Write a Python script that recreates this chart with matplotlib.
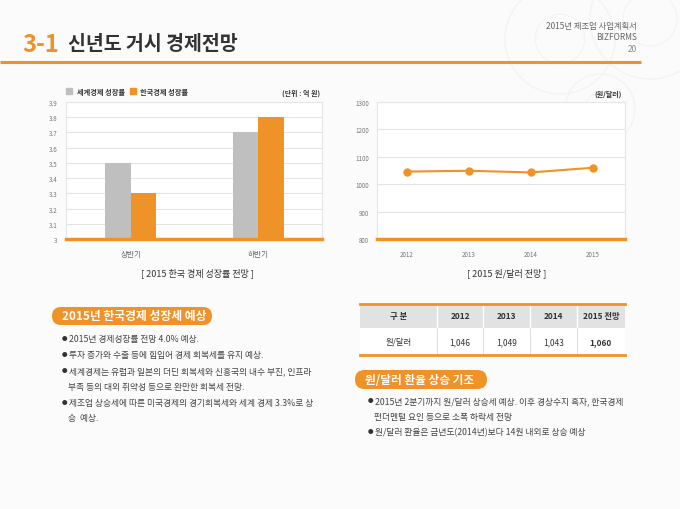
import matplotlib
matplotlib.use("Agg")
import matplotlib.pyplot as plt
from matplotlib.patches import FancyBboxPatch, Rectangle, Circle
import numpy as np

plt.rcParams['font.family'] = ['Noto Sans CJK KR', 'DejaVu Sans']

# ---------------- data ----------------
halves = ['상반기', '하반기']
world_growth = [3.5, 3.7]
korea_growth = [3.3, 3.8]
growth_ticks = [3, 3.1, 3.2, 3.3, 3.4, 3.5, 3.6, 3.7, 3.8, 3.9]

years = ['2012', '2013', '2014', '2015']
krw_usd = [1046, 1049, 1043, 1060]
krw_ticks = [800, 900, 1000, 1100, 1200, 1300]

table_header = ['구 분', '2012', '2013', '2014', '2015 전망']
table_row = ['원/달러', '1,046', '1,049', '1,043', '1,060']

left_bullets = [
    ['2015년 경제성장률 전망 4.0% 예상.'],
    ['투자 증가와 수출 등에 힘입어 경제 회복세를 유지 예상.'],
    ['세계경제는 유럽과 일본의 더딘 회복세와 신흥국의 내수 부진, 인프라',
     '부족 등의 대외 취약성 등으로 완만한 회복세 전망.'],
    ['제조업 상승세에 따른 미국경제의 경기회복세와 세계 경제 3.3%로 상',
     '승  예상.'],
]
right_bullets = [
    ['2015년 2분기까지 원/달러 상승세 예상. 이후 경상수지 흑자, 한국경제',
     '펀더멘털 요인 등으로 소폭 하락세 전망'],
    ['원/달러 환율은 금년도(2014년)보다 14원 내외로 상승 예상'],
]

ORANGE = '#EF9228'
GRAY = '#BFBFBF'
TXT = '#444444'

W, H = 680, 510
fig = plt.figure(figsize=(W / 100, H / 100), dpi=100)
fig.patch.set_facecolor('#FBFBFB')

# overlay axes in pixel coordinates
ov = fig.add_axes([0, 0, 1, 1])
ov.set_xlim(0, W)
ov.set_ylim(H, 0)
ov.axis('off')

# faint gear watermark
for (cx, cy, r) in [(560, 40, 55), (650, 20, 60), (600, 110, 35)]:
    ov.add_patch(Circle((cx, cy), r, fill=False, ec='#F3F3F3', lw=1.0))
    ov.add_patch(Circle((cx, cy), r * 0.45, fill=False, ec='#F3F3F3', lw=0.8))

# header
ov.text(22, 45, '3-1', color=ORANGE, fontsize=17, fontweight='bold', va='center', ha='left')
ov.text(68, 45, '신년도 거시 경제전망', color='#333333', fontsize=14, fontweight='bold', va='center', ha='left')
ov.plot([0, 641], [62.5, 62.5], color=ORANGE, lw=2.2, solid_capstyle='butt')
ov.text(637, 27, '2015년 제조업 사업계획서', color='#666666', fontsize=6, ha='right', va='center')
ov.text(637, 38, 'BIZFORMS', color='#666666', fontsize=6, ha='right', va='center')
ov.text(637, 49, '20', color='#888888', fontsize=6, ha='right', va='center')

# ---------------- left bar chart ----------------
axL = fig.add_axes([66 / W, 1 - 240 / H, 256 / W, 137 / H])
axL.set_facecolor('#FFFFFF')
x = np.arange(len(halves))
bw = 0.2
axL.bar(x - bw / 2, world_growth, bw, color=GRAY, zorder=3)
axL.bar(x + bw / 2, korea_growth, bw, color=ORANGE, zorder=3)
axL.set_ylim(3, 3.9)
axL.set_xlim(-0.51, 1.5)
axL.set_yticks(growth_ticks)
axL.set_yticklabels([('%g' % t) for t in growth_ticks], fontsize=4.5, color='#777777')
axL.set_xticks(x)
axL.set_xticklabels(halves, fontsize=5.5, color='#666666')
axL.yaxis.grid(True, color='#E3E3E3', lw=0.8, zorder=0)
axL.tick_params(length=0, pad=6)
axL.tick_params(axis='x', pad=8)
for s in ['left', 'top', 'right']:
    axL.spines[s].set_color('#E6E6E6')
    axL.spines[s].set_linewidth(0.8)
axL.spines['bottom'].set_color(ORANGE)
axL.spines['bottom'].set_linewidth(2.5)
axL.spines['bottom'].set_zorder(5)

# legend
ov.add_patch(Rectangle((66, 89), 6, 6, color=GRAY))
ov.text(77, 92.5, '세계경제 성장률', fontsize=5.2, color='#333333', va='center', fontweight='bold')
ov.add_patch(Rectangle((130, 89), 6, 6, color=ORANGE))
ov.text(140, 92.5, '한국경제 성장률', fontsize=5.2, color='#333333', va='center', fontweight='bold')
ov.text(320, 93, '(단위 : 억 원)', fontsize=5, color='#333333', ha='right', va='center', fontweight='bold')
ov.text(197, 273, '[ 2015 한국 경제 성장률 전망 ]', fontsize=6.5, color='#333333', ha='center', va='center')

# ---------------- right line chart ----------------
axR = fig.add_axes([377 / W, 1 - 240 / H, 248 / W, 137 / H])
axR.set_facecolor('#FFFFFF')
xr = np.arange(len(years))
axR.plot(xr, krw_usd, color=ORANGE, lw=1.5, marker='o', ms=5, zorder=3)
axR.set_ylim(800, 1300)
axR.set_xlim(-0.48, 3.52)
axR.set_yticks(krw_ticks)
axR.set_yticklabels([str(t) for t in krw_ticks], fontsize=4.5, color='#777777')
axR.set_xticks(xr)
axR.set_xticklabels(years, fontsize=4.5, color='#777777')
axR.yaxis.grid(True, color='#E3E3E3', lw=0.8, zorder=0)
axR.tick_params(length=0, pad=6)
axR.tick_params(axis='x', pad=8)
for s in ['left', 'top', 'right']:
    axR.spines[s].set_color('#E6E6E6')
    axR.spines[s].set_linewidth(0.8)
axR.spines['bottom'].set_color(ORANGE)
axR.spines['bottom'].set_linewidth(2.5)
axR.spines['bottom'].set_zorder(5)
ov.text(622, 94, '(원/달러)', fontsize=5, color='#333333', ha='right', va='center', fontweight='bold')
ov.text(507, 273, '[ 2015 원/달러 전망 ]', fontsize=6.5, color='#333333', ha='center', va='center')

# ---------------- pills ----------------
def pill(x0, y0, w, h, label, fs):
    ov.add_patch(FancyBboxPatch((x0, y0), w, h, boxstyle='round,pad=0,rounding_size=%g' % (h / 2),
                                fc=ORANGE, ec='none'))
    ov.text(x0 + 10, y0 + h / 2, label, color='white', fontsize=fs, fontweight='bold',
            ha='left', va='center')

pill(52, 308, 160, 18, '2015년 한국경제 성장세 예상', 8.5)
pill(355, 371, 132, 19, '원/달러 환율 상승 기조', 8.4)

# ---------------- bullets ----------------
def bullets(items, xb, y0, dy, fs):
    y = y0
    for item in items:
        ov.text(xb, y, '●', fontsize=4, color='#333333', ha='left', va='center')
        for j, line in enumerate(item):
            ov.text(xb + (7 if j == 0 else 6), y, line, fontsize=fs, color=TXT, ha='left', va='center')
            y += dy

bullets(left_bullets, 62, 340, 15.8, 6.3)
bullets(right_bullets, 368, 402, 15.5, 6.3)

# ---------------- table ----------------
cols = [360, 437, 483, 530, 577, 625]
ytop, ymid, ybot = 305, 329, 356
ov.add_patch(Rectangle((cols[0], ytop), cols[-1] - cols[0], ymid - ytop, fc='#E2E2E2', ec='none'))
ov.add_patch(Rectangle((cols[0], ymid), cols[-1] - cols[0], ybot - ymid, fc='#FFFFFF', ec='none'))
for cx in cols[1:-1]:
    ov.plot([cx, cx], [ytop, ybot], color='#FFFFFF', lw=1.0)
    ov.plot([cx, cx], [ymid, ybot], color='#D8D8D8', lw=0.6)
ov.plot([cols[0], cols[-1]], [ytop, ytop], color=ORANGE, lw=2)
ov.plot([cols[0], cols[-1]], [ybot, ybot], color=ORANGE, lw=2)
for i in range(len(table_header)):
    cxm = (cols[i] + cols[i + 1]) / 2
    ov.text(cxm, (ytop + ymid) / 2, table_header[i], fontsize=6, fontweight='bold',
            color='#333333', ha='center', va='center')
    ov.text(cxm, (ymid + ybot) / 2, table_row[i], fontsize=6,
            fontweight='bold' if i == len(table_row) - 1 else 'normal',
            color='#333333', ha='center', va='center')

fig.savefig('out.png', dpi=100, facecolor=fig.get_facecolor())
